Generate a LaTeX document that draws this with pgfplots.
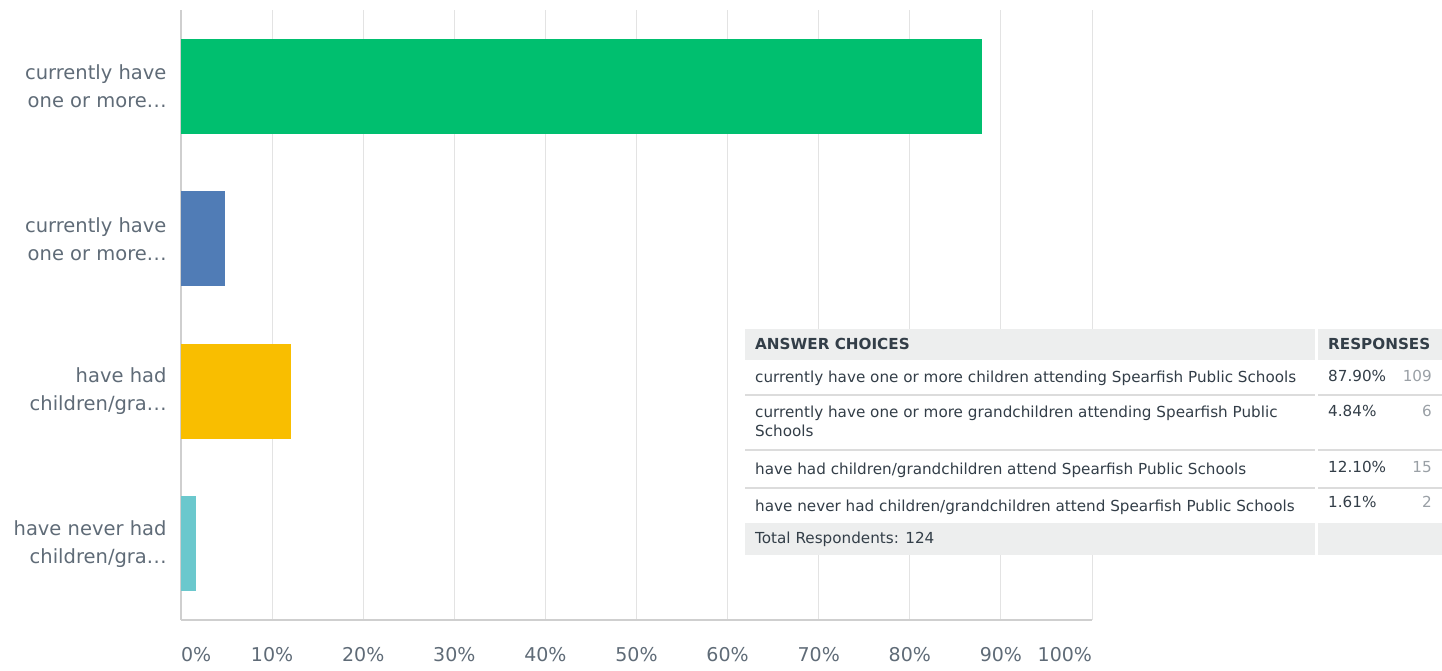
\documentclass[border=0pt]{standalone}
\usepackage{pgfplots}
\pgfplotsset{compat=1.18}
\usepackage{fontspec}
\setmainfont{DejaVu Sans}
\newfontfamily\tabfont{DejaVu Sans}
\definecolor{cgreen}{HTML}{00BF6F}
\definecolor{cblue}{HTML}{507CB6}
\definecolor{cyellow}{HTML}{F9BE00}
\definecolor{cteal}{HTML}{6BC8CD}
\definecolor{labgray}{HTML}{5F6B77}
\definecolor{gridgray}{HTML}{E3E3E3}
\definecolor{axgray}{HTML}{CFCFCF}
\definecolor{hdrgray}{HTML}{EDEEEE}
\definecolor{tabtext}{HTML}{333E48}
\definecolor{numgray}{HTML}{9AA0A6}
\definecolor{sepgray}{HTML}{DCDCDC}
\newcommand{\elli}{.\kern0.5pt.\kern0.5pt.}
\begin{document}
\begin{tikzpicture}
\path[use as bounding box] (0,0) rectangle (1442bp,671bp);
\begin{axis}[
  at={(181bp,51bp)}, anchor=south west,
  scale only axis, width=911bp, height=610bp,
  xmin=0, xmax=100, ymin=-0.5, ymax=3.5,
  y dir=reverse,
  xbar, bar width=95bp, bar shift=0pt,
  axis x line*=bottom, axis y line*=left,
  axis line style={axgray, line width=1.5bp, -},
  major tick length=0pt,
  xmajorgrids, grid style={gridgray, line width=1bp},
  xtick={0,10,20,30,40,50,60,70,80,90,100},
  xticklabels={\makebox[0pt][l]{0\%},10\%,20\%,30\%,40\%,50\%,60\%,70\%,80\%,90\%,\makebox[0pt][r]{100\%}},
  xticklabel style={font=\fontsize{19bp}{21bp}\selectfont, text=labgray, anchor=north, yshift=-24bp},
  ytick={0,1,2,3},
  yticklabels={{currently have\\one or more\elli}, {currently have\\one or more\elli}, {have had\\children/gra\elli}, {have never had\\children/gra\elli}},
  yticklabel style={font=\fontsize{19.5bp}{28bp}\selectfont, text=labgray, align=right, xshift=-11bp},
]
\addplot[fill=cgreen, draw=none] coordinates {(87.90,0)};
\addplot[fill=cblue, draw=none] coordinates {(4.84,1)};
\addplot[fill=cyellow, draw=none] coordinates {(12.10,2)};
\addplot[fill=cteal, draw=none] coordinates {(1.61,3)};
\end{axis}
\begin{scope}[shift={(0,671bp)}, x=1bp, y=-1bp]
\fill[white] (745,329) rectangle (1442,555);
\fill[hdrgray] (745,329) rectangle (1315,360);
\fill[hdrgray] (1318,329) rectangle (1442,360);
\fill[hdrgray] (745,523) rectangle (1315,555);
\fill[hdrgray] (1318,523) rectangle (1442,555);
\foreach \yy in {395,450,488} {
  \fill[sepgray] (745,\yy-1) rectangle (1315,\yy+1);
  \fill[sepgray] (1318,\yy-1) rectangle (1442,\yy+1);
}
\begin{scope}[every node/.style={inner sep=0pt, text=tabtext, font=\tabfont\fontsize{15.2bp}{19bp}\selectfont}]
\node[anchor=west] at (755,344) {\bfseries ANSWER CHOICES};
\node[anchor=west] at (1328,344) {\bfseries RESPONSES};
\node[anchor=west] at (755,378) {currently have one or more children attending Spearfish Public Schools};
\node[anchor=north west, align=left] at (755,406) {currently have one or more grandchildren attending Spearfish Public\\Schools};
\node[anchor=west] at (755,470) {have had children/grandchildren attend Spearfish Public Schools};
\node[anchor=west] at (755,507) {have never had children/grandchildren attend Spearfish Public Schools};
\node[anchor=west] at (755,539) {Total Respondents: 124};
\node[anchor=west] at (1328,376) {87.90\%};
\node[anchor=west] at (1328,411) {4.84\%};
\node[anchor=west] at (1328,467) {12.10\%};
\node[anchor=west] at (1328,502) {1.61\%};
\node[anchor=east, text=numgray] at (1432,376) {109};
\node[anchor=east, text=numgray] at (1432,411) {6};
\node[anchor=east, text=numgray] at (1432,467) {15};
\node[anchor=east, text=numgray] at (1432,502) {2};
\end{scope}
\end{scope}
\end{tikzpicture}
\end{document}
